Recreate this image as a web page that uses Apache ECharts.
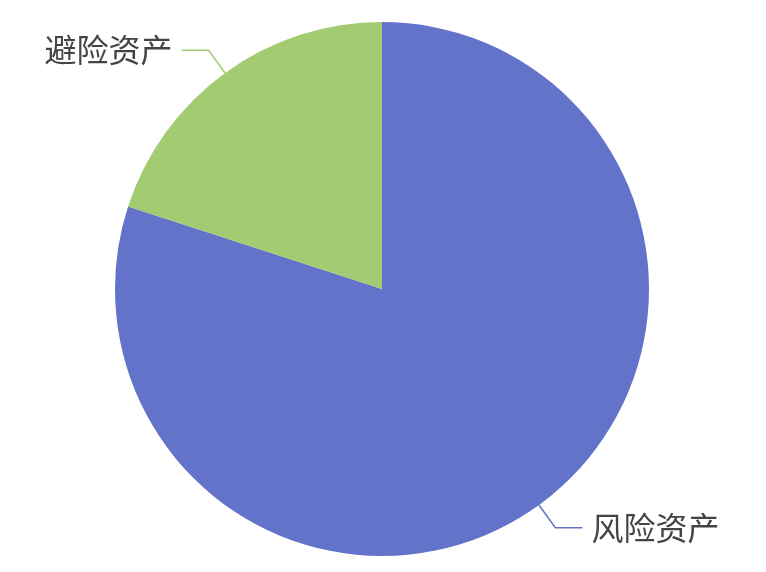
<!DOCTYPE html>
<html>
<head>
<meta charset="utf-8">
<script src="https://cdn.jsdelivr.net/npm/echarts@6/dist/echarts.min.js"></script>
<style>
  html, body { margin: 0; padding: 0; background: #fff; }
  #chart { width: 766px; height: 572px; }
</style>
</head>
<body>
<div id="chart"></div>
<script>
const names = ['风险资产', '避险资产'];
const values = [80, 20];
const colors = ['#6373c9', '#a2cb72'];

const chart = echarts.init(document.getElementById('chart'));
chart.setOption({
  animation: false,
  color: colors,
  series: [{
    type: 'pie',
    center: [382, 289],
    radius: 267,
    startAngle: 90,
    data: names.map((n, i) => ({ name: n, value: values[i] })),
    label: {
      fontSize: 32,
      color: '#444',
      fontFamily: 'Noto Sans CJK SC',
      distanceToLabelLine: 9
    },
    labelLine: { length: 28, length2: 27, lineStyle: { width: 1.5 } }
  }]
});
</script>
</body>
</html>
